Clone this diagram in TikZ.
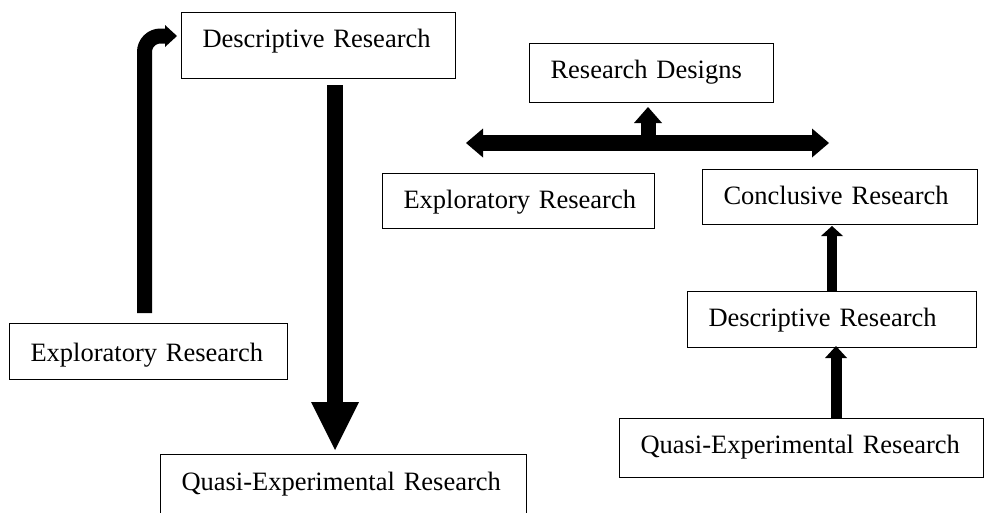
\documentclass[tikz,border=0pt]{standalone}
\usepackage{fontspec}
\setmainfont{Liberation Serif}
\usetikzlibrary{arrows.meta}
\tikzset{
  rbox/.style={draw, line width=1pt, inner xsep=21pt, inner ysep=0pt,
    anchor=north west, align=left, text height=35pt,
    font=\fontsize{26.5}{30}\selectfont},
  fat/.style={draw=black, line width=#1},
}
\begin{document}
\begin{tikzpicture}[x=1pt,y=-1pt]
\useasboundingbox (0,0) rectangle (984,512);
% boxes
\node[rbox, text width=232pt, text depth=31pt] (A) at (181,12) {\mbox{Descriptive Research}};
\node[rbox, text width=202pt, text depth=24pt] (B) at (529,43) {\mbox{Research Designs}};
\node[rbox, text width=230pt, text depth=20pt] (C) at (382,173) {\mbox{Exploratory Research}};
\node[rbox, text width=233pt, text depth=20pt] (D) at (702,169) {\mbox{Conclusive Research}};
\node[rbox, text width=247pt, text depth=21pt] (E) at (687,291) {\mbox{Descriptive Research}};
\node[rbox, text width=322pt, text depth=24pt] (F) at (619,418) {\mbox{Quasi-Experimental Research}};
\node[rbox, text width=236pt, text height=38pt, text depth=18pt] (G) at (9,323) {\mbox{Exploratory Research}};
\node[rbox, text width=324pt, text height=36pt, text depth=34pt] (H) at (160,454) {\mbox{Quasi-Experimental Research}};
% bent arrow: exploratory -> descriptive
\draw[fat=15pt, rounded corners=16pt, -{Triangle[length=12pt,width=22pt,line width=0pt]}]
  ([xshift=-4pt,yshift=10pt]G.north) |- ([xshift=-4pt,yshift=-24pt]A.north west);
% big down arrow
\draw[fat=16pt, -{Triangle[length=48pt,width=48pt,line width=0pt]}]
  ([xshift=154pt,yshift=-6pt]A.south west) -- ([xshift=175pt,yshift=4pt]H.north west);
% double arrow under Research Designs
\coordinate (dl) at ([xshift=-63pt,yshift=-40pt]B.south west);
\coordinate (dr) at ([xshift=300pt,yshift=-40pt]B.south west);
\coordinate (dm) at ([xshift=119pt,yshift=-40pt]B.south west);
\draw[fat=16.5pt, {Triangle[length=17pt,width=29pt,line width=0pt]}-{Triangle[length=17pt,width=29pt,line width=0pt]}]
  (dl) -- (dr);
\draw[fat=15pt, -{Triangle[length=16pt,width=28pt,line width=0pt]}]
  (dm) -- ([xshift=119pt,yshift=-4pt]B.south west);
% right column arrows
\draw[fat=9.5pt, -{Triangle[length=10pt,width=22pt,line width=0pt]}]
  ([xshift=145pt]E.north west) -- ([xshift=130pt,yshift=-1pt]D.south west);
\draw[fat=11pt, -{Triangle[length=12pt,width=22pt,line width=0pt]}]
  ([xshift=217pt]F.north west) -- ([xshift=149pt,yshift=2pt]E.south west);
\end{tikzpicture}
\end{document}
